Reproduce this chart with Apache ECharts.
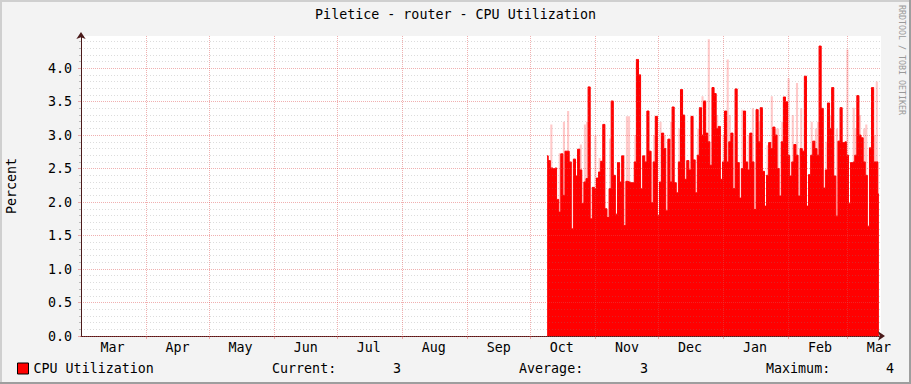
<!DOCTYPE html>
<html>
<head>
<meta charset="utf-8">
<script src="https://cdn.jsdelivr.net/npm/echarts@6/dist/echarts.min.js"></script>
<style>
html,body{margin:0;padding:0;background:#f3f3f3;}
#c{width:911px;height:384px;}
</style>
</head>
<body>
<div id="c"></div>
<script>
// ---- data ----
const chartTitle = 'Piletice - router - CPU Utilization';
const seriesName = 'CPU Utilization';
const yAxisTitle = 'Percent';
const credit = 'RRDTOOL / TOBI OETIKER';
// month labels and the day offset (from 1 Mar) where each month starts
const months = ['Mar','Apr','May','Jun','Jul','Aug','Sep','Oct','Nov','Dec','Jan','Feb','Mar'];
const monthStartDays = [0,31,61,92,122,153,184,214,245,275,306,337,365];
const axisEndDay = 381;
const firstDataDay = 222; // first day with data (around 9 Oct)
// daily CPU utilization (%) – solid level
const cpu = [
  2.69,2.62,2.51,2.50,2.51,2.04,1.85,2.72,2.10,2.76,
  2.76,2.60,1.60,2.64,2.39,2.79,2.48,1.98,2.30,2.35,
  3.72,1.75,2.22,2.20,2.36,2.45,2.61,3.16,1.90,1.77,
  2.20,3.51,2.40,1.82,2.59,2.30,2.69,1.65,2.31,2.30,
  2.29,2.29,2.60,4.13,3.90,2.20,2.69,2.60,3.36,2.76,
  1.99,2.60,3.28,1.80,2.30,3.03,2.80,1.87,2.94,2.30,
  3.42,2.29,2.14,2.60,3.68,3.30,2.34,2.62,2.48,3.28,
  2.63,2.14,2.70,3.41,3.00,3.51,3.03,2.90,2.55,3.71,
  3.62,3.10,3.13,2.34,2.60,3.36,2.60,2.90,3.03,2.20,
  3.69,2.59,2.06,2.50,3.36,2.60,2.48,3.03,2.60,1.89,
  3.38,2.90,3.41,2.46,1.94,2.40,2.89,2.80,3.12,3.00,
  2.50,2.09,2.90,3.57,3.50,2.70,2.39,2.60,2.86,2.70,
  2.09,2.80,2.76,3.88,1.94,2.41,2.70,2.91,2.80,2.70,
  4.33,3.40,2.21,2.48,3.48,3.10,3.71,2.39,1.79,2.91,
  3.41,2.89,2.90,2.70,1.98,2.59,2.60,2.70,3.59,3.00,
  2.96,2.60,2.40,1.64,2.81,3.71,2.60,2.60,2.12
];
// daily short peaks (%) – faint spikes above the solid level
const cpuPeak = [
  2.69,2.62,3.16,2.50,2.51,2.04,2.73,2.72,3.20,2.76,
  3.36,2.60,1.60,2.66,2.39,2.79,2.86,1.98,3.16,3.20,
  3.72,1.75,2.22,2.99,2.36,2.66,2.61,3.16,1.90,1.77,
  2.95,3.51,2.40,1.82,2.59,2.30,2.69,1.65,3.28,3.28,
  2.29,2.29,3.00,4.13,3.90,2.20,2.69,2.60,3.36,2.76,
  1.99,3.00,3.28,1.80,3.20,3.03,3.00,1.87,2.94,3.20,
  3.42,2.29,2.14,3.10,3.68,3.30,2.34,2.62,2.48,3.28,
  2.63,2.14,3.10,3.41,3.58,3.51,3.03,4.43,2.55,3.71,
  3.62,3.30,3.13,2.34,3.00,3.36,4.13,3.30,3.03,2.20,
  3.69,2.59,2.06,3.38,3.36,2.60,3.00,3.03,3.40,1.89,
  3.38,3.20,3.41,2.46,1.94,2.85,2.89,3.58,3.12,3.10,
  3.10,2.09,3.20,3.57,3.50,3.85,2.39,3.30,2.86,3.78,
  2.09,3.40,2.76,3.88,1.94,2.41,3.20,2.91,3.10,3.20,
  4.33,3.40,2.21,2.90,3.48,3.30,3.71,2.39,3.10,2.91,
  3.41,2.89,2.90,4.28,1.98,2.59,3.41,3.10,3.59,3.30,
  2.96,3.10,3.16,1.64,2.81,3.71,3.00,3.80,2.12
];
const yTicks = [0,0.5,1,1.5,2,2.5,3,3.5,4];
const yMax = 4.48;
const statLabels = ['Current:','Average:','Maximum:'];
const statValues = ['3','3','4'];

// ---- build ----
const FONT = 'DejaVu Sans Mono';
const FS = 13.33;
const yMinor = [];
for (let k = 1; k <= 44; k++) { if (k % 5) yMinor.push(k / 10); }
const solidData = cpu.map((v, i) => [firstDataDay + i, v]);
const peakData = cpuPeak.map((v, i) => [firstDataDay + i, v]);
const labelDays = monthStartDays.map(d => d + 15);

const chart = echarts.init(document.getElementById('c'), null, {renderer: 'svg'});
const majorColor = 'rgba(222,80,80,0.45)';
const minorColor = 'rgba(130,130,130,0.28)';
const axisColor = '#4a1a1a';

const statX = [272, 519, 766];
const statValX = [401, 648, 894];
const graphics = [
  {type:'rect', shape:{x:0,y:0,width:911,height:2}, style:{fill:'#cfcfcf'}, z:100},
  {type:'rect', shape:{x:0,y:0,width:2,height:384}, style:{fill:'#cfcfcf'}, z:100},
  {type:'rect', shape:{x:0,y:382,width:911,height:2}, style:{fill:'#9e9e9e'}, z:100},
  {type:'rect', shape:{x:909,y:0,width:2,height:384}, style:{fill:'#9e9e9e'}, z:100},
  {type:'text', x:455.5, y:14, style:{text:chartTitle, font: FS+'px "'+FONT+'"', fill:'#000', textAlign:'center', textVerticalAlign:'middle'}},
  {type:'text', x:11, y:186, rotation:Math.PI/2, style:{text:yAxisTitle, font: FS+'px "'+FONT+'"', fill:'#000', textAlign:'center', textVerticalAlign:'middle'}},
  {type:'text', x:902, y:60, rotation:-Math.PI/2, style:{text:credit, font: '8.3px "'+FONT+'"', fill:'#999', textAlign:'center', textVerticalAlign:'middle'}}
];
statLabels.forEach((s, i) => {
  graphics.push({type:'text', x:statX[i], y:368, style:{text:s, font: FS+'px "'+FONT+'"', fill:'#000', textAlign:'left', textVerticalAlign:'middle'}});
  graphics.push({type:'text', x:statValX[i], y:368, style:{text:statValues[i], font: FS+'px "'+FONT+'"', fill:'#000', textAlign:'right', textVerticalAlign:'middle'}});
});

chart.setOption({
  animation: false,
  backgroundColor: '#f3f3f3',
  textStyle: {fontFamily: FONT},
  grid: {left: 81, right: 30, top: 36, bottom: 48, show: true, backgroundColor: '#ffffff', borderWidth: 0, containLabel: false},
  legend: {
    data: [seriesName], left: 17, top: 362, padding: 0, icon: 'rect', itemWidth: 11, itemHeight: 11,
    itemStyle: {borderColor: '#000', borderWidth: 1},
    textStyle: {fontFamily: FONT, fontSize: FS, color: '#000'}
  },
  xAxis: {
    type: 'value', min: 0, max: axisEndDay, z: 5,
    axisLine: {show: true, lineStyle: {color: axisColor, width: 1}, symbol: ['none','arrow'], symbolSize: [7,7], symbolOffset: [0, 4]},
    axisTick: {show: true, length: 3, customValues: monthStartDays.slice(1), lineStyle: {color: majorColor}},
    splitLine: {show: true, lineStyle: {color: majorColor, type: [1,1], width: 1}},
    axisLabel: {customValues: labelDays, margin: 5, color: '#000', fontFamily: FONT, fontSize: FS,
      formatter: v => months[labelDays.indexOf(v)]}
  },
  yAxis: [{
    type: 'value', min: 0, max: yMax, z: 6, position: 'left',
    axisLine: {show: true, lineStyle: {color: axisColor, width: 1}, symbol: ['none','arrow'], symbolSize: [7,7], symbolOffset: [0, 4]},
    axisTick: {show: true, length: 3, customValues: yTicks, lineStyle: {color: majorColor}},
    splitLine: {show: true, lineStyle: {color: majorColor, type: [1,1], width: 1}},
    axisLabel: {customValues: yTicks, margin: 9, color: '#000', fontFamily: FONT, fontSize: FS,
      formatter: v => v.toFixed(1)}
  }, {
    type: 'value', min: 0, max: yMax, z: 4, position: 'left', offset: 0,
    axisLine: {show: false},
    axisTick: {show: true, length: 2, customValues: yMinor, lineStyle: {color: '#bbb'}},
    splitLine: {show: true, lineStyle: {color: minorColor, type: [1,2], width: 1}},
    axisLabel: {show: false}
  }],
  series: [{
    name: 'peak', type: 'line', data: peakData, step: 'middle', symbol: 'none', z: 1,
    lineStyle: {width: 0}, itemStyle: {color: '#ff9a9a'},
    areaStyle: {color: 'rgba(255,60,60,0.28)', opacity: 1}, silent: true
  }, {
    name: seriesName, type: 'line', data: solidData, step: 'middle', symbol: 'none', z: 2,
    lineStyle: {width: 1, color: '#ff0000'}, itemStyle: {color: '#ff0000'},
    areaStyle: {color: '#ff0000', opacity: 1}
  }],
  graphic: graphics
});
</script>
</body>
</html>
